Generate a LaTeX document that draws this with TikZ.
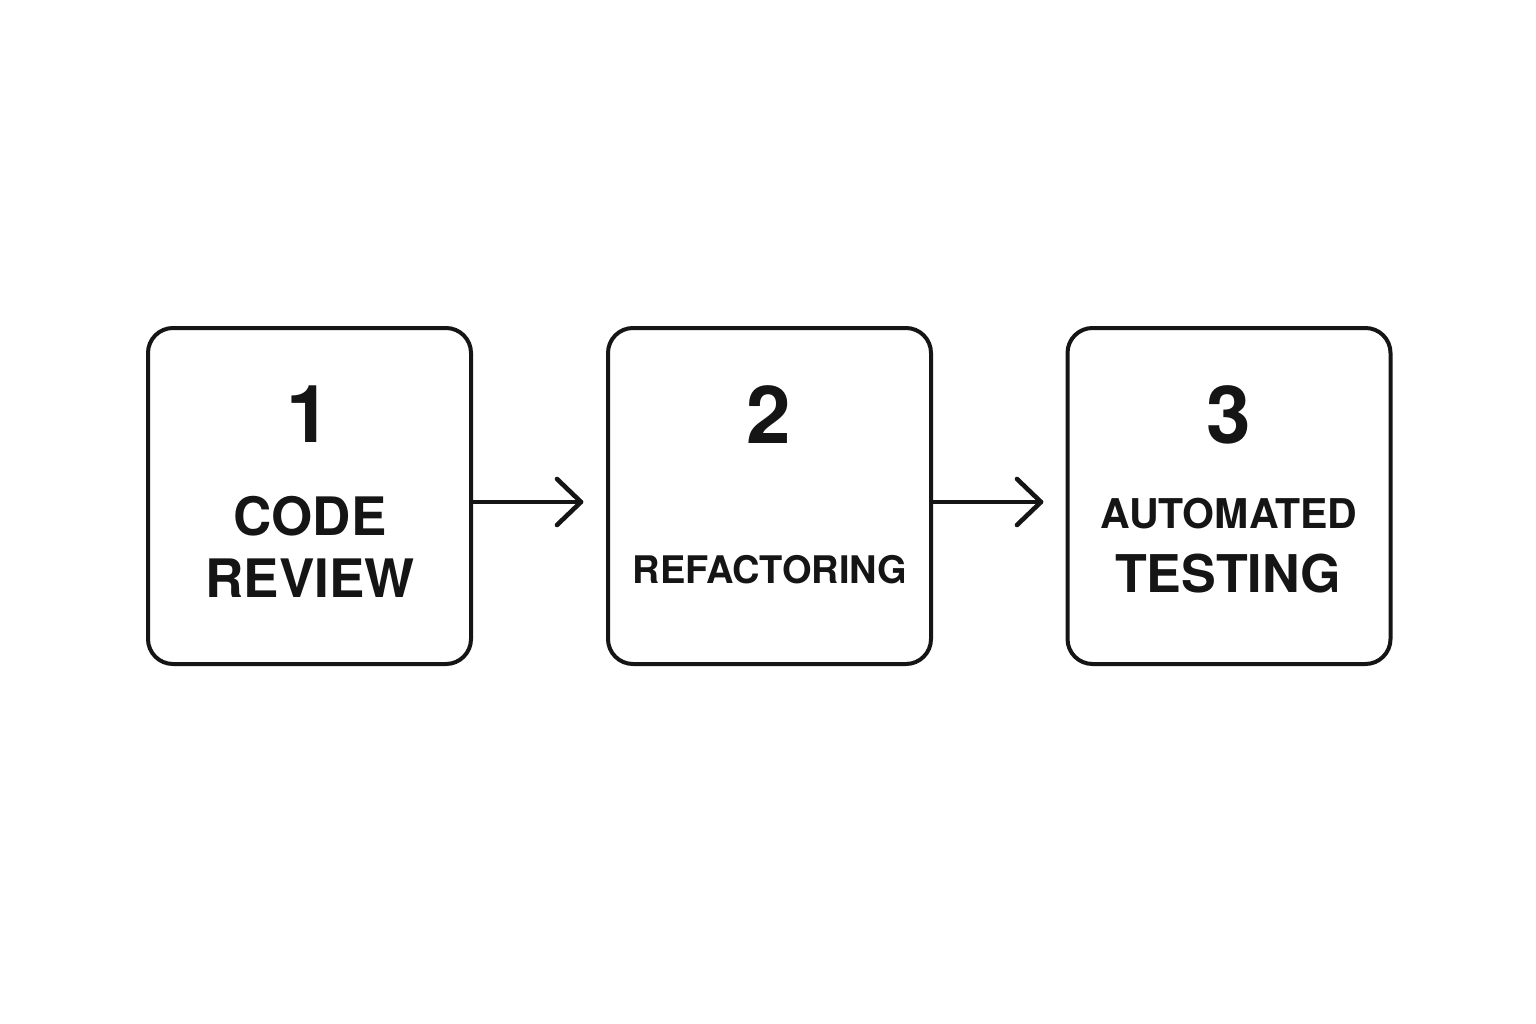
\documentclass[tikz,border=0pt]{standalone}
\usepackage{fontspec}
\setmainfont{TeX Gyre Heros}
\definecolor{ink}{HTML}{151515}
\begin{document}
\begin{tikzpicture}[x=1pt,y=-1pt,
  stepbox/.style={draw=ink,line width=4pt,rounded corners=25pt,minimum width=323pt,minimum height=336pt,inner sep=0pt},
  num/.style={anchor=base,font=\fontsize{80}{80}\selectfont\bfseries,text=ink},
  lbig/.style={anchor=base,font=\fontsize{53}{53}\selectfont\bfseries,text=ink},
  lsmall/.style={anchor=base,font=\fontsize{38}{38}\selectfont\bfseries,text=ink},
  flow/.style={draw=ink,line width=4.6pt,line cap=round,line join=round}]
\useasboundingbox[fill=white] (0,0) rectangle (1536,1024);
\node[stepbox] (b1) at (309.5,496) {};
\node[stepbox] (b2) at (769.5,496) {};
\node[stepbox] (b3) at (1229,496) {};
\node[num] (n1) at (309,442) {1};
\node[lbig] (c1) at (310,535) {CODE};
\node[lbig] (c2) at (310,597) {REVIEW};
\node[num] (n2) at (769,443) {2};
\node[lsmall] (r1) at (770,583) {REFACTORING};
\node[num] (n3) at (1229,443) {3};
\node[lsmall,font=\fontsize{41}{41}\selectfont\bfseries] (a1) at (1229,528) {AUTOMATED};
\node[lbig,font=\fontsize{52}{52}\selectfont\bfseries] (a2) at (1228,592) {TESTING};
\coordinate (t1) at (581,502);
\coordinate (t2) at (1041,502);
\draw[flow] (b1.east |- t1) -- (t1);
\draw[flow] (t1) ++(-24,-23) -- (t1) -- ++(-24,23);
\draw[flow] (b2.east |- t2) -- (t2);
\draw[flow] (t2) ++(-24,-23) -- (t2) -- ++(-24,23);
\end{tikzpicture}
\end{document}
